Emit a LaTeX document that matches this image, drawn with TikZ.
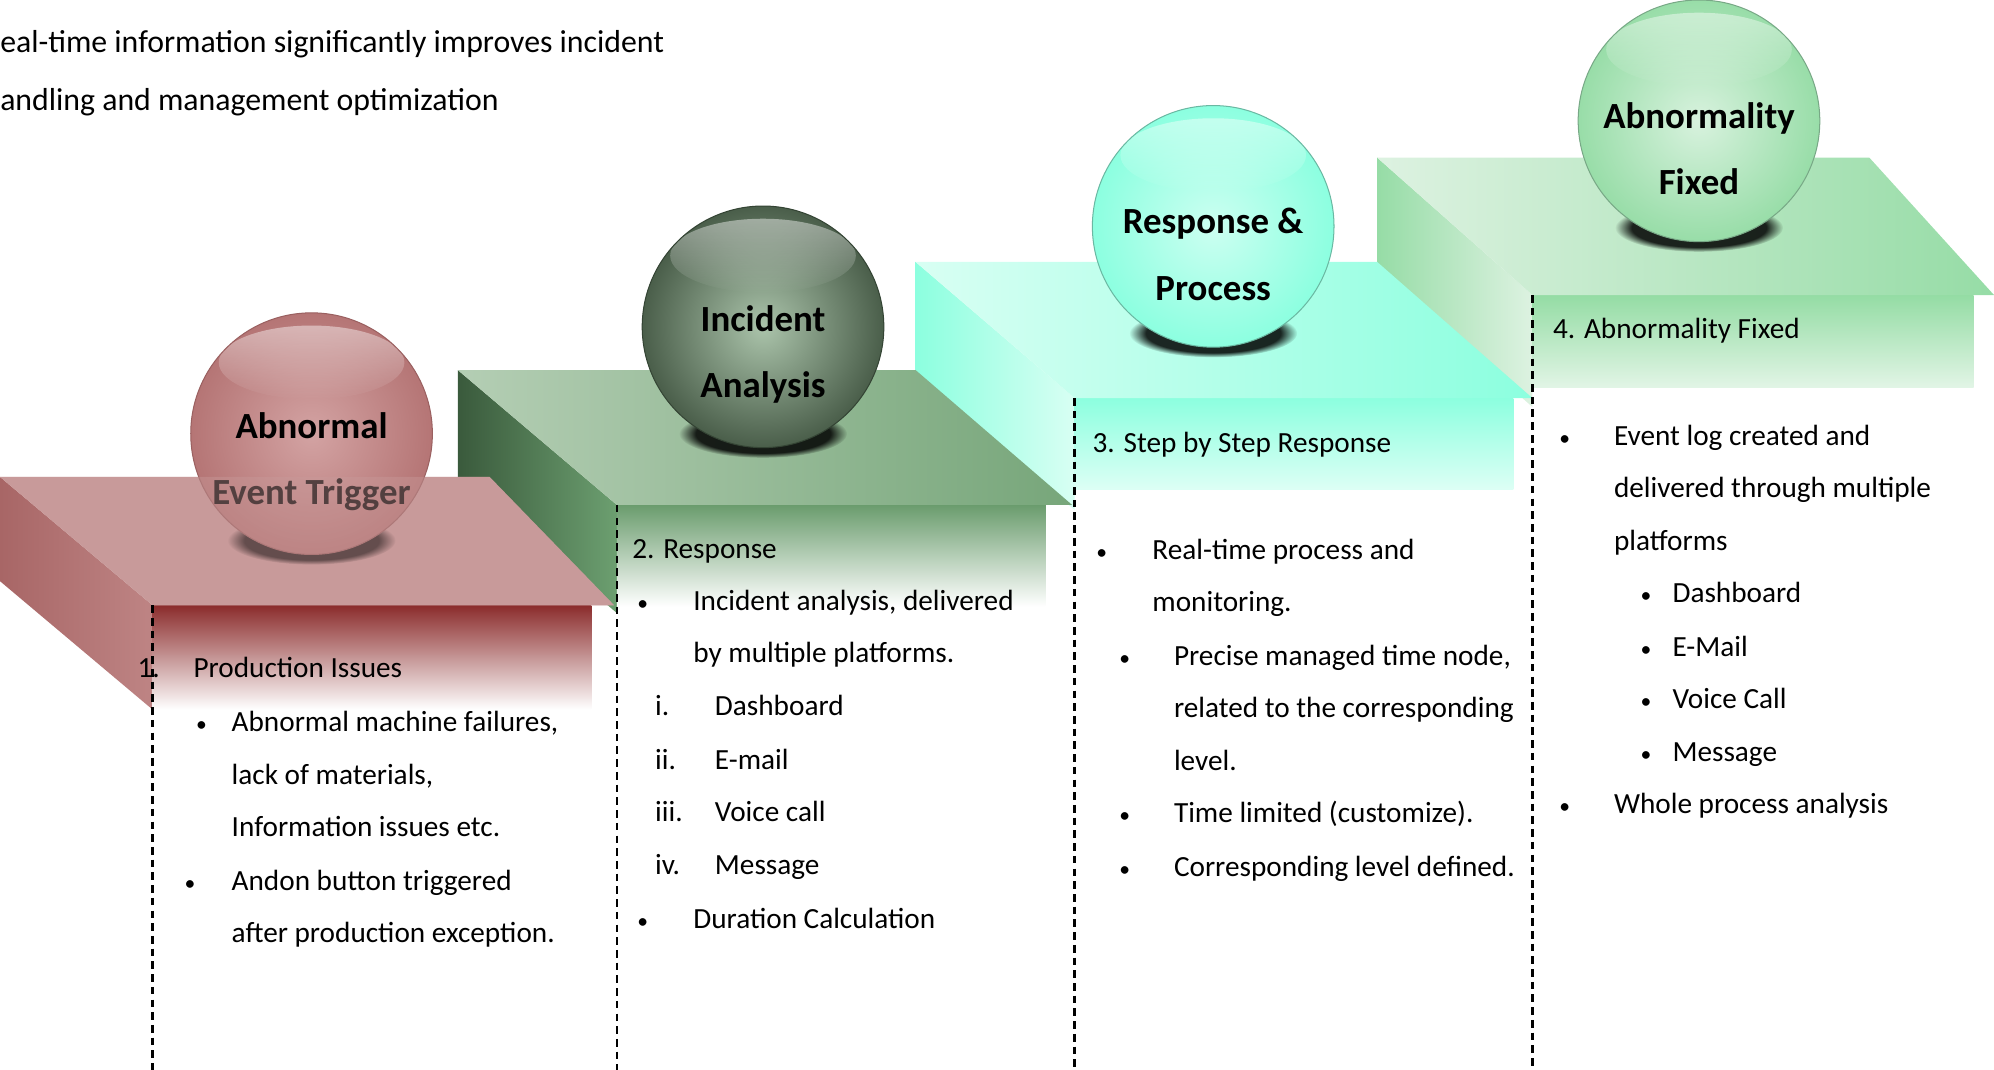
\documentclass[tikz,border=0pt]{standalone}
\usepackage{fontspec}
\setmainfont{Carlito}
\usetikzlibrary{fadings}
% step 1: abnormal event trigger
\definecolor{abnTopL}{HTML}{C89A9A}
\definecolor{abnTopR}{HTML}{C89A9A}
\definecolor{abnSideL}{HTML}{A86666}
\definecolor{abnSideR}{HTML}{BE8484}
\definecolor{abnHead}{HTML}{8B2C2C}
\definecolor{abnHeadB}{HTML}{FFFFFF}
\definecolor{abnIn}{HTML}{D3A3A3}
\definecolor{abnOut}{HTML}{B57575}
\definecolor{abnRim}{HTML}{9A6060}
% step 2: incident analysis
\definecolor{incTopL}{HTML}{B4CEB4}
\definecolor{incTopR}{HTML}{77A67A}
\definecolor{incSideL}{HTML}{3A5A3C}
\definecolor{incSideR}{HTML}{6C9F70}
\definecolor{incHead}{HTML}{6A9C6D}
\definecolor{incHeadB}{HTML}{FFFFFF}
\definecolor{incIn}{HTML}{ABC4AB}
\definecolor{incOut}{HTML}{4A5E4A}
\definecolor{incRim}{HTML}{344434}
% step 3: response and process
\definecolor{rspTopL}{HTML}{D8FFF3}
\definecolor{rspTopR}{HTML}{8CFFDF}
\definecolor{rspSideL}{HTML}{8CFFDF}
\definecolor{rspSideR}{HTML}{D8FFF3}
\definecolor{rspHead}{HTML}{8CFFDF}
\definecolor{rspHeadB}{HTML}{DDFFF5}
\definecolor{rspIn}{HTML}{CCFFF1}
\definecolor{rspOut}{HTML}{8CFFE0}
\definecolor{rspRim}{HTML}{6AB8A2}
% step 4: abnormality fixed
\definecolor{fixTopL}{HTML}{DDF2E1}
\definecolor{fixTopR}{HTML}{96DCA6}
\definecolor{fixSideL}{HTML}{96DCA6}
\definecolor{fixSideR}{HTML}{DDF2E1}
\definecolor{fixHead}{HTML}{94DCA4}
\definecolor{fixHeadB}{HTML}{E2F5E6}
\definecolor{fixIn}{HTML}{D8F2DE}
\definecolor{fixOut}{HTML}{98DDA8}
\definecolor{fixRim}{HTML}{78A886}
\newcommand{\dotmark}{{\fontsize{17}{20}\selectfont •}}
\tikzset{
	txt/.style={font=\fontsize{23}{28}\selectfont, anchor=base west, inner sep=0pt},
	headtxt/.style={txt, font=\fontsize{25}{30}\selectfont},
	orbtxt/.style={font=\fontsize{29}{52}\selectfont\bfseries, align=center, inner sep=0pt},
	guide/.style={dash pattern=on 6pt off 4pt, line width=1.8pt},
}
\begin{document}
\begin{tikzpicture}[x=1pt,y=-1pt]
	\useasboundingbox (0,0) rectangle (1568,841);
	% steps, from back to front
	\foreach \n/\col/\xb/\yb/\xbr/\xf/\yf/\xfr/\xhr/\hh/\sh/\cx/\cy/\la/\lb/\cov in {
		4/fix/1083/124/1470/1205/232/1568/1552/73/88/1336/95/Abnormality/Fixed/0,
		3/rsp/720/206/1083/845/313/1205/1190/72/88/954/178/{Response \&}/Process/0,
		2/inc/360/291/720/485/397/843/822/80/85/600/257/Incident/Analysis/0,
		1/abn/0/375/385/120/476/483/465/82/82/245/341/Abnormal/{Event Trigger}/0.42}{
		\shade[left color=\col SideL, right color=\col SideR] (\xb,\yb) -- (\xf,\yf) -- (\xf,\yf+\sh) -- (\xb,\yb+\sh) -- cycle;
		\shade[top color=\col Head, bottom color=\col HeadB] (\xf,\yf) rectangle (\xhr,\yf+\hh);
		\shade[left color=\col TopL, right color=\col TopR] (\xb,\yb) -- (\xbr,\yb) -- (\xfr,\yf) -- (\xf,\yf) -- cycle;
		\fill[black, fill opacity=0.85, path fading=circle with fuzzy edge 20 percent] (\cx,\cy+84) ellipse (66pt and 19pt);
		\shade[inner color=\col In, outer color=\col Out] (\cx,\cy) circle (95pt);
		\fill[white, fill opacity=0.45, path fading=south] (\cx,\cy-56) ellipse (73pt and 29pt);
		\draw[\col Rim, line width=0.8pt] (\cx,\cy) circle (95pt);
		\node[orbtxt] (orb\n) at (\cx,\cy+22) {\la\\\lb};
		\fill[\col TopR, fill opacity=\cov] (\xb,\yb) -- (\xbr,\yb) -- (\xfr,\yf) -- (\xf,\yf) -- cycle;
		\coordinate (g\n) at (\xf,\yf);
	}
	\foreach \n in {1,...,4}{
		\draw[guide] (g\n) -- (g\n |- 0,841);
	}
	% text lines
	\node[headtxt] (intro1) at (0,41) {eal-time information significantly improves incident};
	\node[headtxt] (intro2) at (0,87) {andling and management optimization};
	\foreach \tx/\y/\t [count=\i] in {
		152/525/Production Issues, 182/567/{Abnormal machine failures,}, 182/609/{lack of materials,},
		182/650/Information issues etc., 182/692/Andon button triggered, 182/733/after production exception.,
		497/431/2. Response, 545/472/{Incident analysis, delivered}, 545/513/by multiple platforms.,
		562/555/Dashboard, 562/597/E-mail, 562/638/Voice call, 562/680/Message, 545/722/Duration Calculation,
		859/348/3. Step by Step Response, 906/432/Real-time process and, 906/473/monitoring.,
		923/515/{Precise managed time node,}, 923/556/related to the corresponding, 923/598/level.,
		923/639/Time limited (customize)., 923/681/Corresponding level defined.,
		1221/258/4. Abnormality Fixed, 1269/342/Event log created and, 1269/383/delivered through multiple,
		1269/425/platforms, 1315/466/Dashboard, 1315/508/E-Mail, 1315/549/Voice Call, 1315/591/Message,
		1269/632/Whole process analysis}{
		\node[txt] (ln\i) at (\tx,\y+8) {\t};
	}
	% bullets and numbers
	\foreach \bx/\y/\m [count=\i] in {
		108/525/1., 154/567/\dotmark, 145/692/\dotmark,
		501/472/\dotmark, 515/555/i., 515/597/ii., 515/638/iii., 515/680/iv., 501/722/\dotmark,
		862/432/\dotmark, 880/515/\dotmark, 880/639/\dotmark, 880/681/\dotmark,
		1226/342/\dotmark, 1290/466/\dotmark, 1290/508/\dotmark, 1290/549/\dotmark, 1290/591/\dotmark, 1226/632/\dotmark}{
		\node[txt] (mk\i) at (\bx,\y+8) {\m};
	}
\end{tikzpicture}
\end{document}
